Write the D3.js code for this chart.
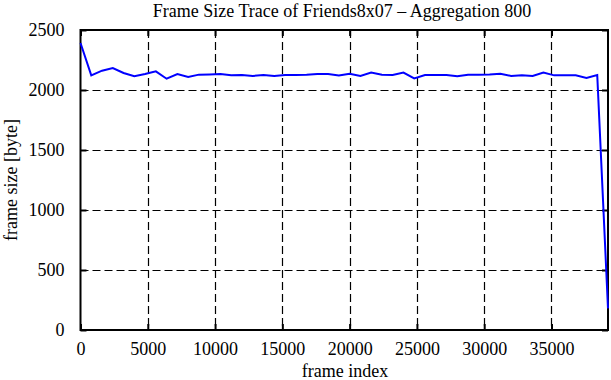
<!DOCTYPE html>
<html>
<head>
<meta charset="utf-8">
<script src="https://cdn.jsdelivr.net/npm/d3@7"></script>
<style>
  body { margin: 0; background: #fff; }
  text { font-family: "Liberation Serif", "DejaVu Serif", serif; fill: #000; }
</style>
</head>
<body>
<div id="chart"></div>
<script>
// frame size averaged over windows of 800 frames
var frameIndex = [0, 800, 1600, 2400, 3200, 4000, 4800, 5600, 6400, 7200, 8000, 8800,
    9600, 10400, 11200, 12000, 12800, 13600, 14400, 15200, 16000, 16800, 17600, 18400,
    19200, 20000, 20800, 21600, 22400, 23200, 24000, 24800, 25600, 26400, 27200, 28000,
    28800, 29600, 30400, 31200, 32000, 32800, 33600, 34400, 35200, 36000, 36800, 37600,
    38400, 39200];
var frameSize = [2392, 2122, 2161, 2183, 2142, 2114, 2133, 2155, 2094, 2133, 2108, 2128,
    2130, 2133, 2122, 2125, 2117, 2125, 2117, 2125, 2125, 2128, 2133, 2133,
    2120, 2136, 2117, 2145, 2128, 2125, 2145, 2097, 2125, 2125, 2125, 2114,
    2128, 2128, 2130, 2136, 2117, 2122, 2117, 2145, 2122, 2122, 2122, 2100,
    2125, 180];
var xTicks = [0, 5000, 10000, 15000, 20000, 25000, 30000, 35000];
var yTicks = [0, 500, 1000, 1500, 2000, 2500];

var w = 611, h = 380;
var padLeft = 80.5, padRight = 608, padTop = 30, padBottom = 330;

var data = frameIndex.map(function(d, i) { return { x: d, y: frameSize[i] }; });

var xScale = d3.scaleLinear().domain([0, 39200]).range([padLeft, padRight]);
var yScale = d3.scaleLinear().domain([0, 2500]).range([padBottom, padTop]);

var svg = d3.select("#chart").append("svg")
    .attr("width", w)
    .attr("height", h);

// grid
svg.append("g").selectAll("line")
    .data(xTicks.filter(function(d) { return d > 0; }))
    .enter().append("line")
    .attr("x1", function(d) { return Math.round(xScale(d)) + 0.5; })
    .attr("x2", function(d) { return Math.round(xScale(d)) + 0.5; })
    .attr("y1", padTop).attr("y2", padBottom)
    .attr("stroke", "#000").attr("stroke-width", 1.2)
    .attr("stroke-dasharray", "8,4");

svg.append("g").selectAll("line")
    .data(yTicks.filter(function(d) { return d > 0 && d < 2500; }))
    .enter().append("line")
    .attr("x1", padLeft).attr("x2", padRight)
    .attr("y1", function(d) { return Math.round(yScale(d)) + 0.5; })
    .attr("y2", function(d) { return Math.round(yScale(d)) + 0.5; })
    .attr("stroke", "#000").attr("stroke-width", 1.2)
    .attr("stroke-dasharray", "8,4");

// axes
var fmt = d3.format("d");
var xAxis = d3.axisBottom(xScale).tickValues(xTicks).tickFormat(fmt).tickSizeInner(-6).tickSizeOuter(0).tickPadding(12);
var yAxis = d3.axisLeft(yScale).tickValues(yTicks).tickFormat(fmt).tickSizeInner(-6).tickSizeOuter(0).tickPadding(16);
var xTop = d3.axisTop(xScale).tickValues(xTicks).tickSizeInner(-6).tickSizeOuter(0).tickFormat("");
var yRight = d3.axisRight(yScale).tickValues(yTicks).tickSizeInner(-6).tickSizeOuter(0).tickFormat("");

function style(g) {
    g.select(".domain").remove();
    g.selectAll(".tick line").attr("stroke", "#000").attr("stroke-width", 2);
    g.selectAll(".tick text").style("font-family", "'Liberation Serif', serif").style("font-size", "18px");
}

svg.append("g").attr("transform", "translate(0," + padBottom + ")").call(xAxis).call(style);
svg.append("g").attr("transform", "translate(" + padLeft + ",0)").call(yAxis).call(style);
svg.append("g").attr("transform", "translate(0," + padTop + ")").call(xTop).call(style);
svg.append("g").attr("transform", "translate(" + padRight + ",0)").call(yRight).call(style);

// frame
svg.append("rect")
    .attr("x", padLeft).attr("y", padTop)
    .attr("width", padRight - padLeft).attr("height", padBottom - padTop)
    .attr("fill", "none").attr("stroke", "#000").attr("stroke-width", 2);

// data line
var line = d3.line()
    .x(function(d) { return xScale(d.x); })
    .y(function(d) { return yScale(d.y); });

svg.append("path")
    .datum(data)
    .attr("d", line)
    .attr("fill", "none")
    .attr("stroke", "#0000ff")
    .attr("stroke-width", 2);

// labels
svg.append("text")
    .attr("x", 342).attr("y", 17)
    .attr("text-anchor", "middle")
    .style("font-size", "18px")
    .text("Frame Size Trace of Friends8x07 \u2013 Aggregation 800");

svg.append("text")
    .attr("x", 345).attr("y", 377)
    .attr("text-anchor", "middle")
    .style("font-size", "18px")
    .text("frame index");

svg.append("text")
    .attr("transform", "translate(17," + ((padTop + padBottom) / 2) + ") rotate(-90)")
    .attr("text-anchor", "middle")
    .style("font-size", "18px")
    .text("frame size [byte]");
</script>
</body>
</html>
